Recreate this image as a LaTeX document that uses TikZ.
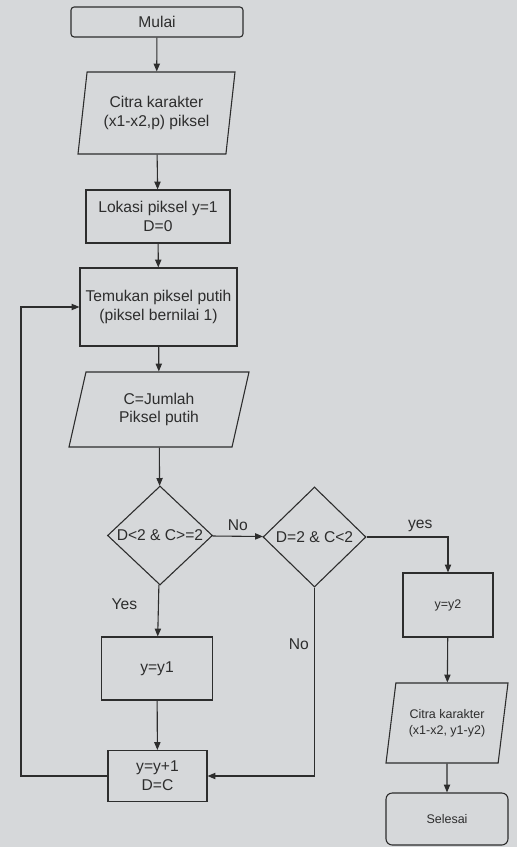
\documentclass[tikz,border=0pt]{standalone}
\usepackage{fontspec}
\setmainfont{Liberation Sans}
\usetikzlibrary{arrows.meta,positioning,shapes.geometric}
\definecolor{paper}{RGB}{214,216,218}
\definecolor{ink}{RGB}{45,45,45}
\def\px{0.0225cm}

\begin{document}
\begin{tikzpicture}[x=\px,y=-\px,
  every node/.style={font=\fontsize{10}{12}\selectfont,text=ink},
  line/.style={draw=ink,line width=0.7pt},
  flow/.style={line,-{Triangle[length=5pt,width=4pt]}},
  box/.style={line,rectangle,align=center,inner sep=1pt},
  term/.style={box,rounded corners=2pt},
  io/.style={line,trapezium,trapezium stretches body,align=center,inner sep=1pt},
  cond/.style={line,diamond,inner sep=0pt},
  small/.style={font=\fontsize{8}{10}\selectfont}]
  \useasboundingbox (0,0) rectangle (517,847);
  \fill[paper] (0,0) rectangle (517,847);

  \node[term,minimum width=172*\px,minimum height=30*\px] (mulai) at (157,22) {Mulai};
  \node[io,trapezium left angle=76,trapezium right angle=104,minimum width=157*\px,minimum height=82*\px]
    (citra) at (156.5,113) {Citra karakter\\(x1-x2,p) piksel};
  \node[box,minimum width=144*\px,minimum height=53*\px] (lokasi) at (158,216.5) {Lokasi piksel y=1\\D=0};
  \node[box,minimum width=157*\px,minimum height=78*\px] (temukan) at (158.5,307)
    {Temukan piksel putih\\(piksel bernilai 1)};
  \node[io,trapezium left angle=65,trapezium right angle=115,minimum width=180*\px,minimum height=75*\px]
    (jumlah) at (159,409.5) {C=Jumlah\\Piksel putih};

  \node[cond,minimum width=105*\px,minimum height=99*\px] (cekA) at (160,535.5) {D<2 \& C>=2};
  \node[cond,minimum width=103*\px,minimum height=100*\px] (cekB) at (314.5,537) {D=2 \& C<2};

  \node[box,minimum width=111*\px,minimum height=63*\px] (ysatu) at (157,668.5) {y=y1};
  \node[box,minimum width=99*\px,minimum height=51*\px] (ynext) at (157.5,776) {y=y+1\\D=C};

  \node[box,small,minimum width=90*\px,minimum height=64*\px] (ydua) at (448,605) {y=y2};
  \node[io,small,trapezium left angle=72,trapezium right angle=108,minimum width=122*\px,minimum height=80*\px]
    (hasil) at (447,723) {Citra karakter\\(x1-x2, y1-y2)};
  \node[term,small,rounded corners=4pt,minimum width=122*\px,minimum height=52*\px] (selesai) at (447,819) {Selesai};

  \draw[flow] (mulai) -- (citra);
  \draw[flow] (citra) -- (lokasi);
  \draw[flow] (lokasi) -- (temukan);
  \draw[flow] (temukan) -- (jumlah);
  \draw[flow] (jumlah) -- (cekA);

  \draw[flow] (cekA) -- node[above]{No} (cekB);
  \draw[flow] (cekB.east) -| node[above,pos=0.33]{yes} (ydua.north);
  \draw[flow] (cekA) -- node[left=10pt,pos=0.38]{Yes} (ysatu);
  \draw[flow] (ysatu) -- (ynext);
  \draw[flow] (ynext.west) -- (ynext.west -| 21,0) |- (temukan.west);
  \draw[flow] (cekB.south) |- node[left=0pt,pos=0.15]{No} (ynext.east);

  \draw[flow] (ydua) -- (hasil);
  \draw[flow] (hasil) -- (selesai);
\end{tikzpicture}
\end{document}
